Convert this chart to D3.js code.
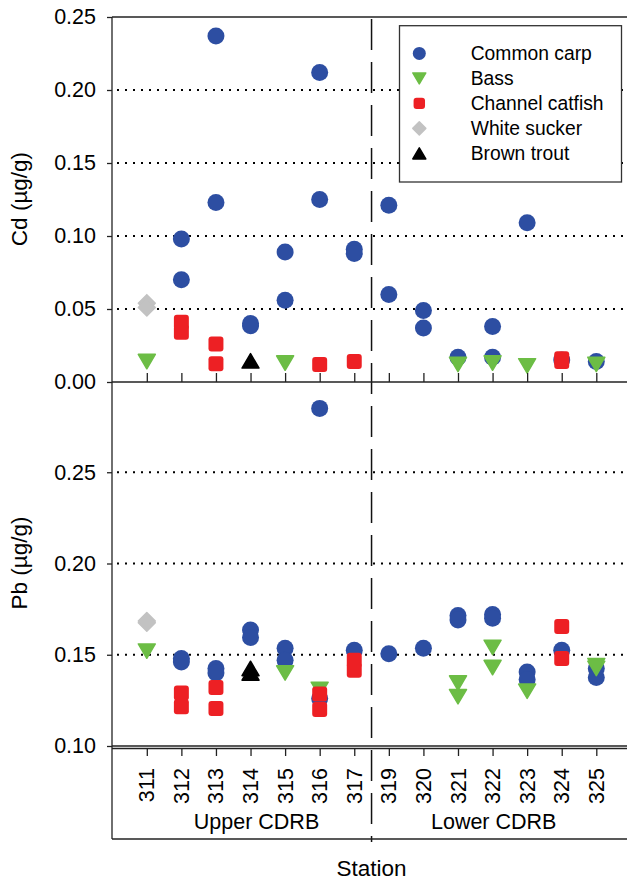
<!DOCTYPE html>
<html>
<head>
<meta charset="utf-8">
<script src="https://cdn.jsdelivr.net/npm/d3@7"></script>
<style>
	body { margin: 0; background: #fff; }
	text { font-family: "Liberation Sans", Arial, sans-serif; fill: #000; }
</style>
</head>
<body>
<div id="chart"></div>
<script>
// stations along the x axis (318 not sampled)
const stations = ["311", "312", "313", "314", "315", "316", "317", "319", "320", "321", "322", "323", "324", "325"];
const regions = ["Upper CDRB", "Lower CDRB"];
const cdTicks = [0.0, 0.05, 0.1, 0.15, 0.2, 0.25];
const pbTicks = [0.1, 0.15, 0.2, 0.25];
const cdGrid = [0.05, 0.1, 0.15, 0.2];
const pbGrid = [0.15, 0.2, 0.25];

// Cd (ug/g), [station, value]
const cdCarp = [["312", 0.098], ["312", 0.070], ["313", 0.237], ["313", 0.123], ["314", 0.0385], ["314", 0.040],
	["315", 0.089], ["315", 0.056], ["316", 0.212], ["316", 0.125], ["317", 0.091], ["317", 0.088],
	["319", 0.121], ["319", 0.060], ["320", 0.049], ["320", 0.037], ["321", 0.017], ["322", 0.038], ["322", 0.017],
	["323", 0.109], ["324", 0.015], ["325", 0.014]];
const cdBass = [["311", 0.014], ["315", 0.013], ["321", 0.012], ["322", 0.013], ["323", 0.011], ["325", 0.012]];
const cdCatfish = [["312", 0.041], ["312", 0.034], ["313", 0.026], ["313", 0.0125], ["316", 0.012], ["317", 0.014],
	["324", 0.014], ["324", 0.016]];
const cdSucker = [["311", 0.054], ["311", 0.051]];
const cdTrout = [["314", 0.0145]];

// Pb (ug/g), [station, value]
const pbCarp = [["312", 0.148], ["312", 0.146], ["313", 0.1425], ["313", 0.140], ["314", 0.1635], ["314", 0.1595],
	["315", 0.1535], ["315", 0.147], ["316", 0.285], ["316", 0.126], ["317", 0.1525], ["319", 0.1505],
	["320", 0.1535], ["321", 0.1715], ["321", 0.169], ["322", 0.172], ["322", 0.170], ["323", 0.1405],
	["323", 0.1365], ["324", 0.1525], ["325", 0.1425], ["325", 0.1375]];
const pbBass = [["311", 0.152], ["315", 0.140], ["316", 0.131], ["321", 0.1345], ["321", 0.127], ["322", 0.154],
	["322", 0.143], ["323", 0.130], ["325", 0.144], ["325", 0.1425]];
const pbCatfish = [["312", 0.129], ["312", 0.1215], ["313", 0.132], ["313", 0.1205], ["316", 0.1285], ["316", 0.120],
	["317", 0.147], ["317", 0.1415], ["324", 0.1655], ["324", 0.148]];
const pbSucker = [["311", 0.1685], ["311", 0.1675]];
const pbTrout = [["314", 0.1425], ["314", 0.140]];

const species = [
	{ name: "Common carp", shape: "circle", color: "#2d4ea2", cd: cdCarp, pb: pbCarp },
	{ name: "Bass", shape: "triDown", color: "#6cbd45", cd: cdBass, pb: pbBass },
	{ name: "Channel catfish", shape: "square", color: "#ed2024", cd: cdCatfish, pb: pbCatfish },
	{ name: "White sucker", shape: "diamond", color: "#c2c2c2", cd: cdSucker, pb: pbSucker },
	{ name: "Brown trout", shape: "triUp", color: "#000000", cd: cdTrout, pb: pbTrout }
];

const W = 627, H = 880;
const left = 112, right = 627;
const svg = d3.select("#chart").append("svg").attr("width", W).attr("height", H);

const x = d3.scalePoint().domain(stations).range([146.8, 596.3]);
const yCd = d3.scaleLinear().domain([0, 0.25]).range([382, 17]);
const yPb = d3.scaleLinear().domain([0.1, 0.3]).range([746, 381]);
const splitX = (x("317") + x("319")) / 2;

// draw one marker; s = nominal size in px
function marker(g, shape, cx, cy, s, color) {
	const h = s / 2;
	if (shape === "circle") {
		g.append("circle").attr("cx", cx).attr("cy", cy).attr("r", h).attr("fill", color);
	} else if (shape === "square") {
		const q = s * 0.88;
		g.append("rect").attr("x", cx - q / 2).attr("y", cy - q / 2).attr("width", q).attr("height", q)
			.attr("rx", 3).attr("fill", color);
	} else {
		let pts;
		if (shape === "triDown") pts = [[cx - h, cy - h * 0.85], [cx + h, cy - h * 0.85], [cx, cy + h * 0.85]];
		else if (shape === "triUp") pts = [[cx - h, cy + h * 0.85], [cx + h, cy + h * 0.85], [cx, cy - h * 0.85]];
		else pts = [[cx, cy - h], [cx + h, cy], [cx, cy + h], [cx - h, cy]];
		g.append("path").attr("d", d3.line()(pts) + "Z").attr("fill", color)
			.attr("stroke", color).attr("stroke-width", 1.5).attr("stroke-linejoin", "round");
	}
}

// dotted grid lines
function grid(vals, y) {
	svg.append("g").selectAll("line").data(vals).join("line")
		.attr("x1", left + 5).attr("x2", right)
		.attr("y1", d => y(d)).attr("y2", d => y(d))
		.attr("stroke", "#000").attr("stroke-width", 2).attr("stroke-dasharray", "2 6");
}
grid(cdGrid, yCd);
grid(pbGrid, yPb);

// region divider
svg.append("line").attr("x1", splitX).attr("x2", splitX).attr("y1", 19).attr("y2", 842)
	.attr("stroke", "#111").attr("stroke-width", 1.5).attr("stroke-dasharray", "31 12");

// data points
species.forEach(sp => {
	const g = svg.append("g");
	sp.cd.forEach(d => marker(g, sp.shape, x(d[0]), yCd(d[1]), 17, sp.color));
	sp.pb.forEach(d => marker(g, sp.shape, x(d[0]), yPb(d[1]), 17, sp.color));
});

// frame lines
const frame = svg.append("g").attr("stroke", "#222").attr("stroke-width", 1.3);
frame.append("line").attr("x1", left).attr("x2", right).attr("y1", 17).attr("y2", 17);
frame.append("line").attr("x1", left).attr("x2", left).attr("y1", 17).attr("y2", 839);
frame.append("line").attr("x1", left).attr("x2", right).attr("y1", 382).attr("y2", 382);
frame.append("line").attr("x1", left).attr("x2", right).attr("y1", 746).attr("y2", 746);
frame.append("line").attr("x1", left).attr("x2", right).attr("y1", 748.5).attr("y2", 748.5);
frame.append("line").attr("x1", left).attr("x2", right).attr("y1", 839).attr("y2", 839);

// y axes
function yAxis(y, vals) {
	const g = svg.append("g").attr("transform", `translate(${left},0)`)
		.call(d3.axisLeft(y).tickValues(vals).tickSize(5).tickPadding(11).tickFormat(d3.format(".2f")));
	g.select(".domain").remove();
	g.selectAll("line").attr("stroke", "#222").attr("stroke-width", 1.3);
	g.selectAll("text").style("font-size", "21.5px").attr("font-family", null);
}
yAxis(yCd, cdTicks);
yAxis(yPb, pbTicks);

// x ticks: inward on Cd panel, outward with labels under Pb panel
const xTop = svg.append("g").attr("transform", "translate(0,382)")
	.call(d3.axisBottom(x).tickSize(-9).tickFormat(""));
xTop.select(".domain").remove();
xTop.selectAll("line").attr("stroke", "#222").attr("stroke-width", 1.3);

const xBot = svg.append("g").attr("transform", "translate(0,748)")
	.call(d3.axisBottom(x).tickSize(8).tickFormat(""));
xBot.select(".domain").remove();
xBot.selectAll("line").attr("stroke", "#222").attr("stroke-width", 1.3);

svg.append("g").selectAll("text").data(stations).join("text")
	.attr("transform", d => `translate(${x(d)},768) rotate(-90)`)
	.attr("text-anchor", "end").attr("dy", "0.35em")
	.style("font-size", "21.5px")
	.text(d => d);

// region labels
svg.append("text").attr("x", 256.5).attr("y", 829).attr("text-anchor", "middle")
	.style("font-size", "21.5px").text(regions[0]);
svg.append("text").attr("x", 493.7).attr("y", 829).attr("text-anchor", "middle")
	.style("font-size", "21.5px").text(regions[1]);

// axis titles
svg.append("text").attr("x", splitX).attr("y", 876).attr("text-anchor", "middle")
	.style("font-size", "22.5px").text("Station");
svg.append("text").attr("transform", "translate(27,199) rotate(-90)").attr("text-anchor", "middle")
	.style("font-size", "22.5px").text("Cd (µg/g)");
svg.append("text").attr("transform", "translate(27,563) rotate(-90)").attr("text-anchor", "middle")
	.style("font-size", "22.5px").text("Pb (µg/g)");

// legend
const leg = svg.append("g");
leg.append("rect").attr("x", 399.5).attr("y", 25.7).attr("width", 222).attr("height", 156.3)
	.attr("fill", "#fff").attr("stroke", "#333").attr("stroke-width", 1.3);
species.forEach((sp, i) => {
	const cy = 53.4 + i * 25;
	marker(leg, sp.shape, 419.3, cy, 13, sp.color);
	leg.append("text").attr("x", 470.7).attr("y", cy).attr("dy", "0.35em")
		.style("font-size", "19.3px").text(sp.name);
});
</script>
</body>
</html>
